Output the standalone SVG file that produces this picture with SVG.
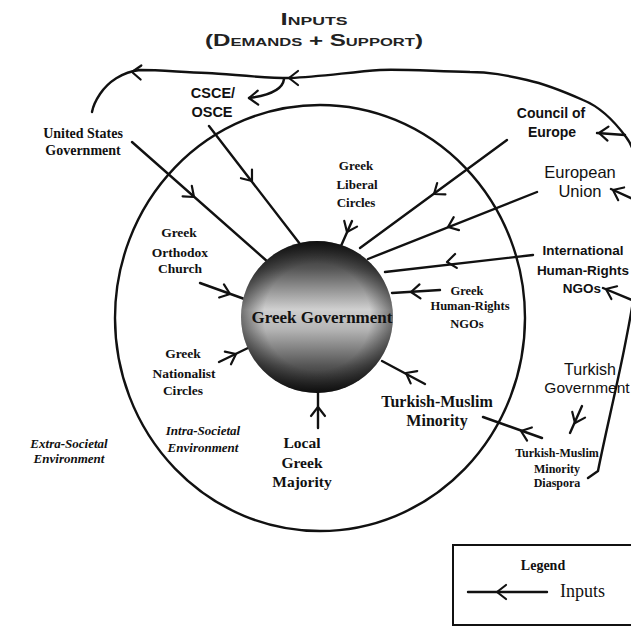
<svg xmlns="http://www.w3.org/2000/svg" xmlns:xlink="http://www.w3.org/1999/xlink" width="631" height="630" viewBox="0 0 631 630">
<defs>
<style>
.ln{fill:none;stroke:#111;stroke-width:2.4;stroke-linecap:round;stroke-linejoin:round}
.ah{fill:none;stroke:#111;stroke-width:2.2;stroke-linecap:round;stroke-linejoin:round}
.sans{font-family:"Liberation Sans",Arial,sans-serif;fill:#111;text-anchor:middle}
.serif{font-family:"Liberation Serif","Times New Roman",serif;fill:#111;text-anchor:middle;font-weight:bold}
.ital{font-family:"Liberation Serif","Times New Roman",serif;fill:#111;text-anchor:middle;font-weight:bold;font-style:italic;font-size:13px}
.title{font-family:"Liberation Sans",Arial,sans-serif;fill:#222;text-anchor:middle;font-weight:bold;font-variant:small-caps;font-size:16px}
</style>
<path id="chev" d="M-9,-7 L0,0 L-9,7"/>
<linearGradient id="sph" x1="0" y1="0" x2="0" y2="1">
<stop offset="0" stop-color="#1c1c1c"/>
<stop offset="0.18" stop-color="#555"/>
<stop offset="0.45" stop-color="#cfcfcf"/>
<stop offset="0.58" stop-color="#b5b5b5"/>
<stop offset="0.82" stop-color="#555"/>
<stop offset="1" stop-color="#1a1a1a"/>
</linearGradient>
<radialGradient id="rim" cx="0.5" cy="0.5" r="0.5">
<stop offset="0.7" stop-color="#000" stop-opacity="0"/>
<stop offset="1" stop-color="#000" stop-opacity="0.45"/>
</radialGradient>
</defs>
<rect x="0" y="0" width="631" height="630" fill="#fff"/>

<g id="title">
<text class="title" x="314" y="25" textLength="67" lengthAdjust="spacingAndGlyphs">Inputs</text>
<text class="title" x="314" y="46" textLength="218" lengthAdjust="spacingAndGlyphs">(Demands + Support)</text>
</g>

<g id="intra-societal-boundary">
<ellipse cx="320" cy="318" rx="205" ry="213" class="ln"/>
</g>

<g id="connectors">
<path class="ln" d="M588,478 L598,471 C604,440 616,390 624,350 C630,320 634,300 636,280 L640,200 C640,170 636,150 626,137 C612,118 598,106 583,100 C565,92 545,84 527,80 C505,75 490,72 470,72 C430,71 400,69 380,70 C350,72 320,77 290,78 C260,78 230,74 207,73 C180,72 160,70 140,70 C122,72 108,82 100,94 C96,100 93,106 92,112"/>
<use href="#chev" class="ah" transform="translate(132,72) rotate(183)"/>
<use href="#chev" class="ah" transform="translate(289,78) rotate(180)"/>
<path class="ln" d="M284,79 C283,88 272,95 249,98"/>
<use href="#chev" class="ah" transform="translate(249,98) rotate(178)"/>
<path class="ln" d="M625,135 L597,133"/>
<use href="#chev" class="ah" transform="translate(599,133) rotate(184)"/>
<path class="ln" d="M633,199 L611,189"/>
<use href="#chev" class="ah" transform="translate(613,190) rotate(205)"/>
<path class="ln" d="M632,300 L603,288"/>
<use href="#chev" class="ah" transform="translate(606,289) rotate(204)"/>
<path class="ln" d="M132,142 L268,262"/>
<use href="#chev" class="ah" transform="translate(194,197) rotate(41)"/>
<path class="ln" d="M209,126 L300,244"/>
<use href="#chev" class="ah" transform="translate(252,181) rotate(52)"/>
<path class="ln" d="M352,221 L341,246"/>
<use href="#chev" class="ah" transform="translate(347,232) rotate(114)"/>
<path class="ln" d="M507,140 L360,248"/>
<use href="#chev" class="ah" transform="translate(434,194) rotate(144)"/>
<path class="ln" d="M537,192 L368,259"/>
<use href="#chev" class="ah" transform="translate(448,227) rotate(158)"/>
<path class="ln" d="M533,255 L385,272"/>
<use href="#chev" class="ah" transform="translate(447,262) rotate(173)"/>
<path class="ln" d="M440,290 L392,293"/>
<use href="#chev" class="ah" transform="translate(411,292) rotate(176)"/>
<path class="ln" d="M425,384 L382,361"/>
<use href="#chev" class="ah" transform="translate(406,373) rotate(208)"/>
<path class="ln" d="M318,428 L318,388"/>
<use href="#chev" class="ah" transform="translate(318,407) rotate(-90)"/>
<path class="ln" d="M219,362 L250,347"/>
<use href="#chev" class="ah" transform="translate(236,354) rotate(-26)"/>
<path class="ln" d="M200,283 L250,301"/>
<use href="#chev" class="ah" transform="translate(230,294) rotate(20)"/>
<path class="ln" d="M542,438 L483,417"/>
<use href="#chev" class="ah" transform="translate(521,431) rotate(200)"/>
<path class="ln" d="M582,406 L570,433"/>
<use href="#chev" class="ah" transform="translate(575,423) rotate(114)"/>
</g>

<g id="greek-government">
<circle cx="317" cy="317" r="76" fill="url(#sph)"/>
<circle cx="317" cy="317" r="76" fill="url(#rim)"/>
<text class="serif" x="322" y="323" font-size="17">Greek Government</text>
</g>

<g id="csce-osce">
<text class="sans" font-weight="bold" font-size="14.5" x="213" y="98">CSCE/</text>
<text class="sans" font-weight="bold" font-size="14.5" x="212" y="117">OSCE</text>
</g>

<g id="us-government">
<text class="serif" font-size="14" x="83" y="138">United States</text>
<text class="serif" font-size="14" x="83" y="155">Government</text>
</g>

<g id="council-of-europe">
<text class="sans" font-weight="bold" font-size="14" x="551" y="118">Council of</text>
<text class="sans" font-weight="bold" font-size="14" x="552" y="137">Europe</text>
</g>

<g id="european-union">
<text class="sans" font-size="16.5" x="580" y="178">European</text>
<text class="sans" font-size="16.5" x="580" y="197">Union</text>
</g>

<g id="international-hr-ngos">
<text class="sans" font-weight="bold" font-size="13.5" x="583" y="255">International</text>
<text class="sans" font-weight="bold" font-size="13.5" x="583" y="275">Human-Rights</text>
<text class="sans" font-weight="bold" font-size="13.5" x="582" y="293">NGOs</text>
</g>

<g id="greek-liberal-circles">
<text class="serif" font-size="13" x="356" y="170">Greek</text>
<text class="serif" font-size="13" x="357" y="189">Liberal</text>
<text class="serif" font-size="13" x="356" y="207">Circles</text>
</g>

<g id="greek-orthodox-church">
<text class="serif" font-size="13.5" x="179" y="237">Greek</text>
<text class="serif" font-size="13.5" x="180" y="257">Orthodox</text>
<text class="serif" font-size="13.5" x="180" y="273">Church</text>
</g>

<g id="greek-hr-ngos">
<text class="serif" font-size="12.5" x="467" y="295">Greek</text>
<text class="serif" font-size="12.5" x="470" y="310">Human-Rights</text>
<text class="serif" font-size="12.5" x="467" y="328">NGOs</text>
</g>

<g id="greek-nationalist-circles">
<text class="serif" font-size="13.5" x="183" y="358">Greek</text>
<text class="serif" font-size="13.5" x="184" y="378">Nationalist</text>
<text class="serif" font-size="13.5" x="183" y="395">Circles</text>
</g>

<g id="turkish-muslim-minority">
<text class="serif" font-size="16" x="437" y="407">Turkish-Muslim</text>
<text class="serif" font-size="16" x="437" y="426">Minority</text>
</g>

<g id="turkish-government">
<text class="sans" font-size="16" x="590" y="375">Turkish</text>
<text class="sans" font-size="15.5" x="587" y="393">Government</text>
</g>

<g id="turkish-muslim-diaspora">
<text class="serif" font-size="12" x="557" y="457">Turkish-Muslim</text>
<text class="serif" font-size="12" x="557" y="473">Minority</text>
<text class="serif" font-size="12" x="557" y="487">Diaspora</text>
</g>

<g id="local-greek-majority">
<text class="serif" font-size="15.5" x="302" y="448">Local</text>
<text class="serif" font-size="15.5" x="302" y="468">Greek</text>
<text class="serif" font-size="15.5" x="302" y="487">Majority</text>
</g>

<g id="intra-societal-environment">
<text class="ital" x="203" y="435">Intra-Societal</text>
<text class="ital" x="203" y="452">Environment</text>
</g>

<g id="extra-societal-environment">
<text class="ital" x="69" y="448">Extra-Societal</text>
<text class="ital" x="69" y="463">Environment</text>
</g>

<g id="legend">
<rect x="453" y="545" width="190" height="80" fill="none" stroke="#111" stroke-width="2"/>
<text class="serif" font-size="14" x="543" y="570">Legend</text>
<path class="ln" d="M468,592 L547,592"/>
<use href="#chev" class="ah" transform="translate(497,592) rotate(180)"/>
<text x="560" y="597" font-family="'Liberation Serif','Times New Roman',serif" font-size="18" fill="#111">Inputs</text>
</g>
</svg>
